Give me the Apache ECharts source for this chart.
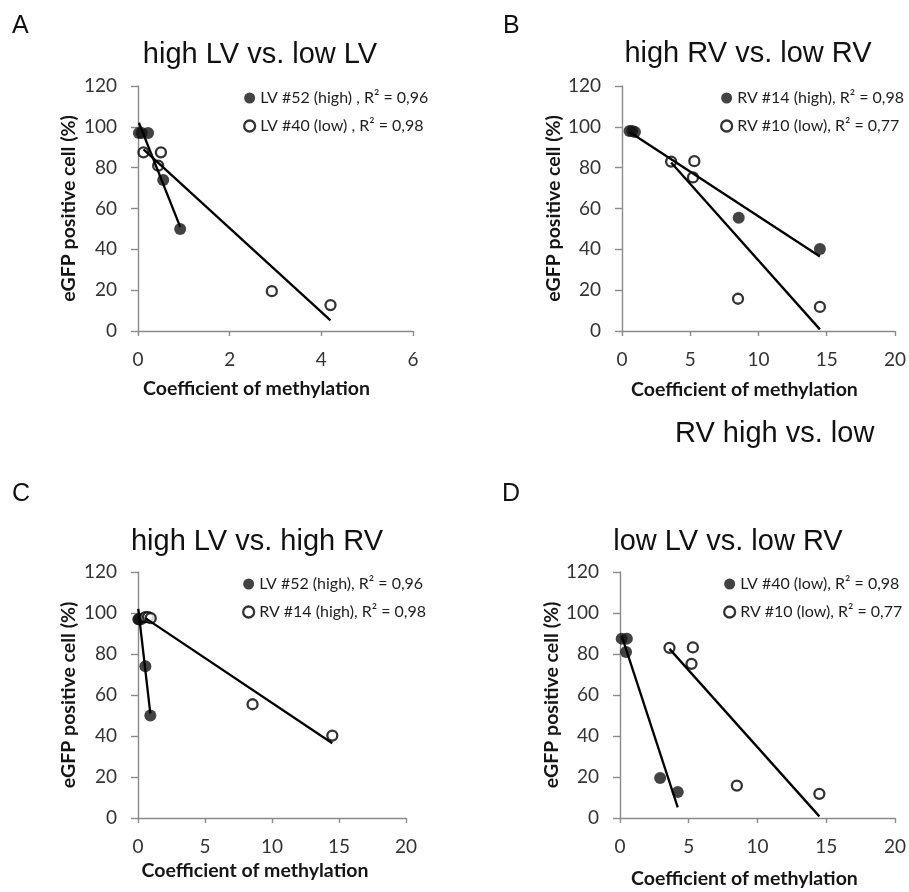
<!DOCTYPE html>
<html><head><meta charset="utf-8">
<script src="https://cdn.jsdelivr.net/npm/echarts@6/dist/echarts.min.js"></script>
<style>html,body{margin:0;padding:0;background:#fff}#c{width:909px;height:892px}</style>
</head><body><div id="c"></div>
<script>
// ---- data ----
const lv52High = [[0.02,97],[0.08,97],[0.22,97],[0.55,74],[0.92,50]];
const lv40Low  = [[0.12,87.5],[0.5,87.5],[0.44,81],[2.92,19.5],[4.2,12.7]];
const rv14High = [[0.55,98],[0.75,98],[0.95,97.5],[8.55,55.5],[14.5,40.2]];
const rv10Low  = [[3.6,83],[5.3,83.2],[5.2,75.2],[8.5,15.8],[14.5,11.8]];

// trendline end points (as drawn in the reference)
const trendLv52 = [[0.02,102],[0.92,51]];
const trendLv40 = [[0.12,89],[4.2,5.2]];
const trendRv14 = [[0.55,97.5],[14.5,36.5]];
const trendRv10 = [[3.6,82.5],[14.5,0.8]];

const panelTitles  = ['high LV vs. low LV','high RV vs. low RV','high LV vs. high RV','low LV vs. low RV'];
const panelLetters = ['A','B','C','D'];
const xMaxes    = [6,20,20,20];
const xSteps    = [2,5,5,5];
const yMin = 0, yMax = 120, yStep = 20;
const xName = 'Coefficient of methylation';
const yName = 'eGFP positive cell (%)';
const legendTexts = [
  ['LV #52 (high) , R\u00b2 = 0,96','LV #40 (low) , R\u00b2 = 0,98'],
  ['RV #14 (high), R\u00b2 = 0,98','RV #10 (low), R\u00b2 = 0,77'],
  ['LV #52 (high), R\u00b2 = 0,96','RV #14 (high), R\u00b2 = 0,98'],
  ['LV #40 (low), R\u00b2 = 0,98','RV #10 (low), R\u00b2 = 0,77']
];
// which data goes to each panel: [filled, open]
const panelData   = [[lv52High, lv40Low],[rv14High, rv10Low],[lv52High, rv14High],[lv40Low, rv10Low]];
const panelTrends = [[trendLv52, trendLv40],[trendRv14, trendRv10],[trendLv52, trendRv14],[trendLv40, trendRv10]];
const extraNote = 'RV high vs. low';

// ---- layout ----
const grids = [
  {left:138, top:86,  width:275, height:245},
  {left:622, top:86,  width:274, height:245},
  {left:138, top:572, width:268, height:246},
  {left:620, top:572, width:277, height:246}
];
const titlePos  = [[260,40],[748,39],[257,527],[728,527]];
const letterPos = [[12,14],[503,14],[12,482],[502,482]];
const legendPos = [[243,90],[720,90],[242,576],[723,576]];
const xNameGap  = [48,49,43,51];
const xNamePad  = [38,28,34,26];
const yNameGap  = [59,54,59,54];

const axisColor = '#8a8a8a';
const labelColor = '#333333';
const filledStyle = {color:'#141414', borderColor:'#141414', borderWidth:0};
const openStyle = {color:'#ffffff', borderColor:'#000000', borderWidth:2.3};

const option = {
  animation:false,
  backgroundColor:'#ffffff',
  title: panelTitles.map((t,i)=>({
    text:t, left:titlePos[i][0], top:titlePos[i][1], textAlign:'center', padding:0,
    textStyle:{fontFamily:'Liberation Sans', fontSize:29, fontWeight:'normal', color:'#111'}
  })),
  grid: grids.map(g=>Object.assign({containLabel:false}, g)),
  legend: legendTexts.map((names,i)=>({
    orient:'vertical', left:legendPos[i][0], top:legendPos[i][1], padding:0,
    itemWidth:11, itemHeight:11, itemGap:12, selectedMode:false, icon:'circle',
    textStyle:{fontFamily:'Lato', fontSize:16, color:'#1e1e1e'},
    data:[
      {name:names[0], icon:'circle', itemStyle:filledStyle},
      {name:names[1], icon:'circle', itemStyle:{color:'#ffffff', borderColor:'#000', borderWidth:2.3}}
    ]
  })),
  xAxis: grids.map((g,i)=>({
    gridIndex:i, type:'value', min:0, max:xMaxes[i], interval:xSteps[i],
    splitLine:{show:false},
    axisLine:{show:true, onZero:false, lineStyle:{color:axisColor, width:1.4}},
    axisTick:{show:true, length:5, lineStyle:{color:axisColor, width:1.4}},
    axisLabel:{margin:19, fontFamily:'Lato', fontSize:19, color:labelColor},
    name:xName, nameLocation:'middle', nameGap:xNameGap[i],
    nameTextStyle:{fontFamily:'Lato', fontWeight:'bold', fontSize:19.5, color:'#151515', padding:[0,xNamePad[i],0,0]}
  })),
  yAxis: grids.map((g,i)=>({
    gridIndex:i, type:'value', min:yMin, max:yMax, interval:yStep,
    splitLine:{show:false},
    axisLine:{show:true, onZero:false, lineStyle:{color:axisColor, width:1.4}},
    axisTick:{show:true, length:7, lineStyle:{color:axisColor, width:1.4}},
    axisLabel:{margin:21, fontFamily:'Lato', fontSize:19, color:labelColor},
    name:yName, nameLocation:'middle', nameGap:yNameGap[i],
    nameTextStyle:{fontFamily:'Lato', fontWeight:'bold', fontSize:19.5, color:'#151515'}
  })),
  graphic: panelLetters.map((l,i)=>({
    type:'text', left:letterPos[i][0], top:letterPos[i][1],
    style:{text:l, font:'25px "Liberation Sans"', fill:'#111'}
  })).concat([{
    type:'text', left:675, top:419,
    style:{text:extraNote, font:'29px "Liberation Sans"', fill:'#111'}
  }]),
  series: []
};

panelData.forEach((pair,i)=>{
  option.series.push({
    type:'scatter', name:legendTexts[i][0], xAxisIndex:i, yAxisIndex:i,
    data:pair[0], symbol:'circle', symbolSize:12, itemStyle:filledStyle, z:2
  });
  option.series.push({
    type:'scatter', name:legendTexts[i][1], xAxisIndex:i, yAxisIndex:i,
    data:pair[1], symbol:'circle', symbolSize:10, itemStyle:openStyle, z:2
  });
  panelTrends[i].forEach((tr,k)=>{
    option.series.push({
      type:'line', name:'trend'+i+'_'+k, xAxisIndex:i, yAxisIndex:i,
      data:tr, symbol:'none', silent:true, z:3,
      lineStyle:{color:'#000', width:2.3}
    });
  });
});

const chart = echarts.init(document.getElementById('c'), null, {renderer:'canvas'});
chart.setOption(option);
</script>
</body></html>
